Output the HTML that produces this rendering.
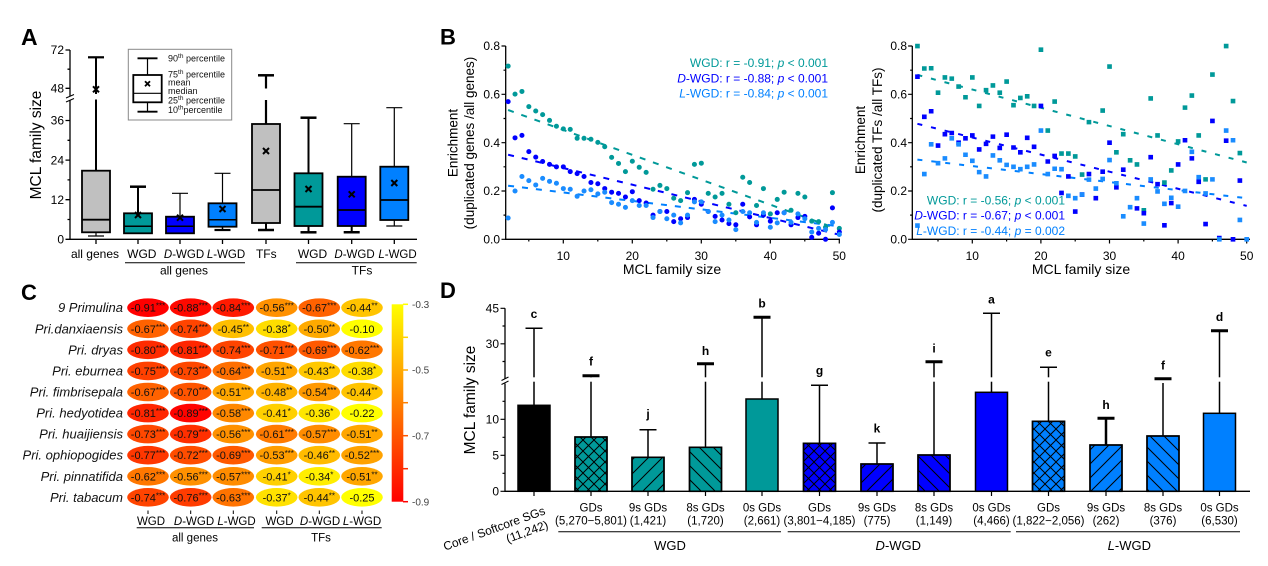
<!DOCTYPE html>
<html><head><meta charset="utf-8">
<style>
html,body{margin:0;padding:0;background:#fff;}
svg{display:block;font-family:"Liberation Sans",Arial,sans-serif;}
</style></head><body>
<svg width="1268" height="566" viewBox="0 0 1268 566" xmlns="http://www.w3.org/2000/svg">
<defs>
<pattern id="pc" patternUnits="userSpaceOnUse" width="11" height="11"><path d="M0,0L11,11M11,0L0,11" stroke="#000" stroke-width="1"/></pattern>
<pattern id="pf" patternUnits="userSpaceOnUse" width="14" height="14"><path d="M-1,15L15,-1M-4,4L4,-4M10,18L18,10" stroke="#000" stroke-width="1"/></pattern>
<pattern id="pb" patternUnits="userSpaceOnUse" width="14" height="14"><path d="M-1,-1L15,15M-4,10L4,18M10,-4L18,4" stroke="#000" stroke-width="1"/></pattern>
<linearGradient id="cb" x1="0" y1="0" x2="0" y2="1"><stop offset="0" stop-color="#ffff00"/><stop offset="1" stop-color="#ff0000"/></linearGradient>
</defs>
<rect width="1268" height="566" fill="#fff"/>

<!-- ================= PANEL A ================= -->
<text x="21" y="45" font-size="23" font-weight="bold">A</text>
<text transform="translate(41,145) rotate(-90)" text-anchor="middle" font-size="15.5">MCL family size</text>
<path d="M70,50V96M70,100.5V239.3H417" stroke="#000" stroke-width="1.3" fill="none"/>
<path d="M66,98L74,94.5M66,102L74,98.5" stroke="#000" stroke-width="1"/>
<path d="M65.5,239.3H70M65.5,199.7H70M65.5,160.1H70M65.5,120.5H70M65.5,88.3H70M65.5,50H70M67.5,219.5H70M67.5,179.9H70M67.5,140.3H70M67.5,69.2H70" stroke="#000" stroke-width="1.3"/>
<g font-size="12" text-anchor="end">
<text x="64" y="243.5">0</text><text x="64" y="203.9">12</text><text x="64" y="164.3">24</text><text x="64" y="124.7">36</text><text x="64" y="92.5">48</text><text x="64" y="54.2">72</text>
</g>
<path d="M96,239.3V244M138,239.3V244M180,239.3V244M222.5,239.3V244M266,239.3V244M308.5,239.3V244M351.7,239.3V244M394.3,239.3V244" stroke="#000" stroke-width="1.3"/>

<!-- box 1 all genes -->
<path d="M96,57.3V94M96,99.5V170.7" stroke="#000" stroke-width="2"/>
<path d="M88,57.3H104" stroke="#000" stroke-width="2.2"/>
<path d="M96,232.3V236M88,236H104" stroke="#000" stroke-width="1.2"/>
<rect x="82" y="170.7" width="28" height="61.6" fill="#c0c0c0" stroke="#000" stroke-width="1.8"/>
<path d="M82,219.7H110" stroke="#000" stroke-width="1.8"/>
<path d="M93,86.3L99,92.3M99,86.3L93,92.3" stroke="#000" stroke-width="2"/>
<!-- box 2 WGD -->
<path d="M138,186.7V213.3" stroke="#000" stroke-width="2"/>
<path d="M130,186.7H146" stroke="#000" stroke-width="2.5"/>
<rect x="124" y="213.3" width="28" height="20" fill="#009999" stroke="#000" stroke-width="1.8"/>
<path d="M124,226.3H152" stroke="#000" stroke-width="1.5"/>
<path d="M135,212L141,218M141,212L135,218" stroke="#000" stroke-width="2"/>
<!-- box 3 D-WGD -->
<path d="M180,193.3V216.7M172,193.3H188" stroke="#000" stroke-width="1.2"/>
<rect x="166" y="216.7" width="28" height="16.6" fill="#0000ff" stroke="#000" stroke-width="1.8"/>
<path d="M166,226.3H194" stroke="#000" stroke-width="1.5"/>
<path d="M177,214.7L183,220.7M183,214.7L177,220.7" stroke="#000" stroke-width="2"/>
<!-- box 4 L-WGD -->
<path d="M222.5,173.3V203.3M214.5,173.3H230.5" stroke="#000" stroke-width="1.2"/>
<path d="M222.5,226.7V230" stroke="#000" stroke-width="1.5"/>
<path d="M214.5,230H230.5" stroke="#000" stroke-width="2.2"/>
<rect x="208.5" y="203.3" width="28" height="23.4" fill="#0080ff" stroke="#000" stroke-width="1.8"/>
<path d="M208.5,219.7H236.5" stroke="#000" stroke-width="1.5"/>
<path d="M219.5,206L225.5,212M225.5,206L219.5,212" stroke="#000" stroke-width="2"/>
<!-- box 5 TFs -->
<path d="M266,75.3V88.5M266,100V124" stroke="#000" stroke-width="2.2"/>
<path d="M258,75.3H274" stroke="#000" stroke-width="2.5"/>
<path d="M266,223V230" stroke="#000" stroke-width="2"/>
<path d="M258,230H274" stroke="#000" stroke-width="2.5"/>
<rect x="252" y="124" width="28" height="99" fill="#c0c0c0" stroke="#000" stroke-width="1.8"/>
<path d="M252,190H280" stroke="#000" stroke-width="1.8"/>
<path d="M263,148L269,154M269,148L263,154" stroke="#000" stroke-width="2"/>
<!-- box 6 WGD TF -->
<path d="M308.5,117.7V173.3" stroke="#000" stroke-width="2"/>
<path d="M300.5,117.7H316.5" stroke="#000" stroke-width="2.5"/>
<path d="M308.5,226V232.3" stroke="#000" stroke-width="2"/>
<path d="M300.5,232.3H316.5" stroke="#000" stroke-width="2.5"/>
<rect x="294.5" y="173.3" width="28" height="52.7" fill="#009999" stroke="#000" stroke-width="1.8"/>
<path d="M294.5,206.7H322.5" stroke="#000" stroke-width="1.8"/>
<path d="M305.5,186L311.5,192M311.5,186L305.5,192" stroke="#000" stroke-width="2"/>
<!-- box 7 D-WGD TF -->
<path d="M351.7,123.7V176.7M343.7,123.7H359.7" stroke="#000" stroke-width="1.2"/>
<path d="M351.7,226V232.3" stroke="#000" stroke-width="2"/>
<path d="M343.7,232.3H359.7" stroke="#000" stroke-width="2.5"/>
<rect x="337.7" y="176.7" width="28" height="49.3" fill="#0000ff" stroke="#000" stroke-width="1.8"/>
<path d="M337.7,210H365.7" stroke="#000" stroke-width="1.8"/>
<path d="M348.7,191.3L354.7,197.3M354.7,191.3L348.7,197.3" stroke="#000" stroke-width="2"/>
<!-- box 8 L-WGD TF -->
<path d="M394.3,107.7V166.7M386.3,107.7H402.3M394.3,220V226M386.3,226H402.3" stroke="#000" stroke-width="1.2"/>
<rect x="380.3" y="166.7" width="28" height="53.3" fill="#0080ff" stroke="#000" stroke-width="1.8"/>
<path d="M380.3,200H408.3" stroke="#000" stroke-width="1.8"/>
<path d="M391.3,180L397.3,186M397.3,180L391.3,186" stroke="#000" stroke-width="2"/>

<g font-size="12" text-anchor="middle">
<text x="95" y="258">all genes</text>
<text x="141.8" y="258">WGD</text>
<text x="184" y="258" font-size="11.5"><tspan font-style="italic">D</tspan>-WGD</text>
<text x="226" y="258" font-size="11.5"><tspan font-style="italic">L</tspan>-WGD</text>
<text x="266.3" y="258">TFs</text>
<text x="312.5" y="258">WGD</text>
<text x="354.5" y="258" font-size="11.5"><tspan font-style="italic">D</tspan>-WGD</text>
<text x="397.5" y="258" font-size="11.5"><tspan font-style="italic">L</tspan>-WGD</text>
<text x="184" y="274.5">all genes</text>
<text x="362" y="274.5">TFs</text>
</g>
<path d="M125,262.7H245M296,262.7H416.7" stroke="#000" stroke-width="1"/>

<!-- legend -->
<rect x="128.3" y="49.3" width="103.4" height="70.7" fill="#fff" stroke="#888" stroke-width="1"/>
<path d="M147.5,58.3V75M147.5,102.3V111.7" stroke="#000" stroke-width="1.2"/>
<path d="M137.5,58.3H157.5M137.5,111.7H157.5" stroke="#000" stroke-width="1.8"/>
<rect x="133.3" y="75" width="28.4" height="27.3" fill="#fff" stroke="#000" stroke-width="1.8"/>
<path d="M133.3,93.3H161.7" stroke="#000" stroke-width="1.2"/>
<path d="M145,81.2L150,86.2M150,81.2L145,86.2" stroke="#000" stroke-width="1.8"/>
<g font-size="9" fill="#111">
<text x="168" y="61.5">90<tspan font-size="6.5" dy="-3.5">th</tspan><tspan dy="3.5"> percentile</tspan></text>
<text x="168" y="77.5">75<tspan font-size="6.5" dy="-3.5">th</tspan><tspan dy="3.5"> percentile</tspan></text>
<text x="168" y="85.5">mean</text>
<text x="168" y="94">median</text>
<text x="168" y="103.5">25<tspan font-size="6.5" dy="-3.5">th</tspan><tspan dy="3.5"> percentile</tspan></text>
<text x="168" y="113">10<tspan font-size="6.5" dy="-3.5">th</tspan><tspan dy="3.5">percentile</tspan></text>
</g>

<!-- ================= PANEL B LEFT ================= -->
<text x="440" y="44.5" font-size="22" font-weight="bold">B</text>
<g font-size="13.5" text-anchor="middle">
<text transform="translate(457.5,143) rotate(-90)">Enrichment</text>
<text transform="translate(474,143) rotate(-90)">(duplicated genes /all genes)</text>
<text transform="translate(865,140) rotate(-90)">Enrichment</text>
<text transform="translate(882,140) rotate(-90)">(duplicated TFs /all TFs)</text>
</g>
<path d="M505.7,46V239.3H840" stroke="#000" stroke-width="1.3" fill="none"/>
<path d="M501.5,239.3H505.7M501.5,191H505.7M501.5,142.7H505.7M501.5,94.3H505.7M501.5,46H505.7M503.5,215.1H505.7M503.5,166.8H505.7M503.5,118.5H505.7M503.5,70.2H505.7" stroke="#000" stroke-width="1.2"/>
<path d="M563.3,239.3V243.5M632.3,239.3V243.5M701.3,239.3V243.5M770.3,239.3V243.5M839.3,239.3V243.5M528.8,239.3V241.5M597.8,239.3V241.5M666.8,239.3V241.5M735.8,239.3V241.5M804.8,239.3V241.5" stroke="#000" stroke-width="1.2"/>
<g font-size="12" text-anchor="end">
<text x="500" y="243.5">0.0</text><text x="500" y="195.2">0.2</text><text x="500" y="146.9">0.4</text><text x="500" y="98.5">0.6</text><text x="500" y="50.2">0.8</text>
<text x="907" y="243.5">0.0</text><text x="907" y="195.2">0.2</text><text x="907" y="146.9">0.4</text><text x="907" y="98.5">0.6</text><text x="907" y="50.2">0.8</text>
</g>
<g font-size="12" text-anchor="middle">
<text x="563.3" y="260">10</text><text x="632.3" y="260">20</text><text x="701.3" y="260">30</text><text x="770.3" y="260">40</text><text x="839.3" y="260">50</text>
<text x="972.3" y="260">10</text><text x="1040.9" y="260">20</text><text x="1109.5" y="260">30</text><text x="1178.1" y="260">40</text><text x="1246.7" y="260">50</text>
</g>
<g font-size="14" text-anchor="middle">
<text x="672" y="274">MCL family size</text>
<text x="1081" y="274">MCL family size</text>
</g>

<!-- trend lines left -->
<g stroke-width="2" stroke-dasharray="6,8" fill="none">
<path d="M508.1,110L839.3,229.6" stroke="#009999"/>
<path d="M508.1,154.7L839.3,234.7" stroke="#0000ff"/>
<path d="M508.1,185.7L839.3,226.3" stroke="#0080ff"/>
</g>
<g transform="translate(494.3,239.3) scale(6.9,-241.6)" fill="none" stroke-linecap="round">
<path vector-effect="non-scaling-stroke" stroke-width="5" stroke="#009999" d="M2,.717h.01M3,.601h.01M4,.612h.01M5,.549h.01M6,.531h.01M7,.516h.01M8,.492h.01M9,.468h.01M10,.457h.01M11,.455h.01M12,.418h.01M13,.418h.01M14,.414h.01M15,.401h.01M16,.383h.01M17,.339h.01M18,.314h.01M19,.28h.01M20,.323h.01M21,.298h.01M22,.277h.01M23,.207h.01M24,.223h.01M25,.21h.01M26,.17h.01M27,.16h.01M28,.193h.01M29,.31h.01M30,.315h.01M31,.19h.01M32,.175h.01M33,.19h.01M34,.145h.01M35,.11h.01M36,.257h.01M37,.235h.01M38,.14h.01M39,.21h.01M40,.105h.01M41,.165h.01M42,.195h.01M43,.12h.01M44,.19h.01M45,.175h.01M46,.075h.01M47,.073h.01M48,.05h.01M49,.193h.01M50,.045h.01"/>
<path vector-effect="non-scaling-stroke" stroke-width="5" stroke="#0000ff" d="M2,.57h.01M3,.42h.01M4,.43h.01M5,.363h.01M6,.34h.01M7,.322h.01M8,.31h.01M9,.3h.01M10,.3h.01M11,.28h.01M12,.272h.01M13,.26h.01M14,.235h.01M15,.23h.01M16,.21h.01M17,.195h.01M18,.19h.01M19,.175h.01M20,.197h.01M21,.16h.01M22,.15h.01M23,.1h.01M24,.115h.01M25,.115h.01M26,.073h.01M27,.085h.01M28,.09h.01M29,.165h.01M30,.145h.01M31,.115h.01M32,.095h.01M33,.08h.01M34,.065h.01M35,.06h.01M36,.145h.01M37,.093h.01M38,.06h.01M39,.1h.01M40,.075h.01M41,.11h.01M42,.11h.01M43,.06h.01M44,.09h.01M45,.095h.01M46,.008h.01M47,.025h.01M48,0h.01M49,.13h.01M50,.03h.01"/>
<path vector-effect="non-scaling-stroke" stroke-width="5" stroke="#1a8cff" d="M2,.088h.01M3,.2h.01M4,.26h.01M5,.243h.01M6,.225h.01M7,.252h.01M8,.24h.01M9,.232h.01M10,.21h.01M11,.207h.01M12,.178h.01M13,.2h.01M14,.205h.01M15,.188h.01M16,.195h.01M17,.152h.01M18,.145h.01M19,.132h.01M20,.16h.01M21,.14h.01M22,.14h.01M23,.09h.01M24,.115h.01M25,.085h.01M26,.1h.01M27,.068h.01M28,.1h.01M29,.155h.01M30,.155h.01M31,.115h.01M32,.073h.01M33,.1h.01M34,.08h.01M35,.04h.01M36,.115h.01M37,.11h.01M38,.07h.01M39,.11h.01M40,.05h.01M41,.068h.01M42,.11h.01M43,.07h.01M44,.105h.01M45,.085h.01M46,.03h.01M47,.045h.01M48,.04h.01M49,.07h.01M50,.02h.01"/>
</g>
<g font-size="12" text-anchor="end">
<text x="828" y="67" fill="#009999">WGD: r = -0.91; <tspan font-style="italic">p</tspan> &lt; 0.001</text>
<text x="828" y="82.5" fill="#0000ff"><tspan font-style="italic">D</tspan>-WGD: r = -0.88; <tspan font-style="italic">p</tspan> &lt; 0.001</text>
<text x="828" y="97.5" fill="#0080ff"><tspan font-style="italic">L</tspan>-WGD: r = -0.84; <tspan font-style="italic">p</tspan> &lt; 0.001</text>
</g>

<!-- ================= PANEL B RIGHT ================= -->
<path d="M912.3,46V239.3H1250" stroke="#000" stroke-width="1.3" fill="none"/>
<path d="M908.1,239.3H912.3M908.1,191H912.3M908.1,142.7H912.3M908.1,94.3H912.3M908.1,46H912.3M910.1,215.1H912.3M910.1,166.8H912.3M910.1,118.5H912.3M910.1,70.2H912.3" stroke="#000" stroke-width="1.2"/>
<path d="M972.3,239.3V243.5M1040.9,239.3V243.5M1109.5,239.3V243.5M1178.1,239.3V243.5M1246.7,239.3V243.5M938,239.3V241.5M1006.6,239.3V241.5M1075.2,239.3V241.5M1143.8,239.3V241.5M1212.4,239.3V241.5" stroke="#000" stroke-width="1.2"/>
<g stroke-width="2" stroke-dasharray="5,9" fill="none">
<path d="M917.4,74.9L1246.7,162.5" stroke="#009999"/>
<path d="M917.4,123.8L1246.7,205.9" stroke="#0000ff"/>
<path d="M917.4,159.6L1246.7,198.2" stroke="#0080ff"/>
</g>
<g transform="translate(903.7,239.3) scale(6.86,-241.6)" fill="none" stroke-linecap="square">
<path vector-effect="non-scaling-stroke" stroke-width="4.6" stroke="#009999" d="M2,.8h.01M3,.707h.01M4,.708h.01M5,.607h.01M6,.67h.01M7,.665h.01M8,.632h.01M9,.588h.01M10,.67h.01M11,.552h.01M12,.617h.01M13,.637h.01M14,.607h.01M15,.653h.01M16,.555h.01M17,.585h.01M18,.592h.01M19,.552h.01M20,.785h.01M21,.45h.01M22,.57h.01M23,.355h.01M24,.355h.01M25,.343h.01M26,.268h.01M27,.485h.01M29,.533h.01M30,.715h.01M31,.36h.01M32,.435h.01M33,.327h.01M34,.31h.01M35,.12h.01M36,.583h.01M37,.43h.01M38,.235h.01M39,.285h.01M40,.405h.01M41,.545h.01M42,.595h.01M43,.43h.01M44,.248h.01M45,.682h.01M47,.8h.01M48,.572h.01M49,.357h.01"/>
<path vector-effect="non-scaling-stroke" stroke-width="4.6" stroke="#0000ff" d="M2,.673h.01M3,.507h.01M4,.53h.01M5,.388h.01M6,.435h.01M7,.44h.01M8,.4h.01M9,.418h.01M10,.43h.01M11,.372h.01M12,.395h.01M13,.425h.01M14,.378h.01M15,.433h.01M16,.38h.01M17,.36h.01M18,.42h.01M19,.383h.01M20,.552h.01M21,.322h.01M22,.345h.01M23,.192h.01M24,.26h.01M25,.115h.01M26,.185h.01M27,.27h.01M28,.17h.01M29,.28h.01M30,.4h.01M31,.215h.01M32,.288h.01M34,.128h.01M35,.108h.01M36,.34h.01M37,.228h.01M38,.058h.01M39,.15h.01M40,.31h.01M41,.41h.01M42,.335h.01M43,.238h.01M44,.063h.01M45,.49h.01M46,.005h.01M47,.408h.01M48,0h.01M49,.243h.01"/>
<path vector-effect="non-scaling-stroke" stroke-width="4.6" stroke="#1a8cff" d="M2,.057h.01M3,.27h.01M4,.393h.01M5,.315h.01M6,.335h.01M7,.418h.01M8,.393h.01M9,.35h.01M10,.325h.01M11,.278h.01M12,.26h.01M13,.347h.01M14,.327h.01M15,.308h.01M16,.3h.01M17,.29h.01M18,.3h.01M19,.31h.01M20,.45h.01M21,.27h.01M22,.292h.01M23,.29h.01M24,.18h.01M25,.17h.01M26,.185h.01M27,.247h.01M28,.21h.01M29,.25h.01M30,.328h.01M31,.232h.01M32,.095h.01M33,.133h.01M34,.17h.01M35,.065h.01M36,.248h.01M37,.198h.01M38,.147h.01M39,.172h.01M40,.135h.01M41,.2h.01M42,.362h.01M43,.257h.01M44,.19h.01M45,.248h.01M46,0h.01M47,.45h.01M48,.41h.01M49,.08h.01M50,0h.01"/>
</g>
<g font-size="12" text-anchor="end">
<text x="1065" y="204.5" fill="#009999">WGD: r = -0.56; <tspan font-style="italic">p</tspan> &lt; 0.001</text>
<text x="1065" y="219.5" fill="#0000ff"><tspan font-style="italic">D</tspan>-WGD: r = -0.67; <tspan font-style="italic">p</tspan> &lt; 0.001</text>
<text x="1065" y="235" fill="#0080ff"><tspan font-style="italic">L</tspan>-WGD: r = -0.44; <tspan font-style="italic">p</tspan> = 0.002</text>
</g>

<!-- ================= PANEL C ================= -->
<text x="21" y="300" font-size="22" font-weight="bold">C</text>
<g font-size="13" font-style="italic" text-anchor="end" fill="#111">
<text x="123" y="312.2">9 Primulina</text>
<text x="123" y="333.3">Pri.danxiaensis</text>
<text x="123" y="354.3">Pri. dryas</text>
<text x="123" y="375.4">Pri. eburnea</text>
<text x="123" y="396.5">Pri. fimbrisepala</text>
<text x="123" y="417.6">Pri. hedyotidea</text>
<text x="123" y="438.6">Pri. huaijiensis</text>
<text x="123" y="459.7">Pri. ophiopogides</text>
<text x="123" y="480.8">Pri. pinnatifida</text>
<text x="123" y="501.8">Pri. tabacum</text>
</g>
<g>
<ellipse cx="148" cy="307.7" rx="20.8" ry="9.3" fill="#ff0000"/><ellipse cx="190.7" cy="307.7" rx="20.8" ry="9.3" fill="#ff0900"/><ellipse cx="233.3" cy="307.7" rx="20.8" ry="9.3" fill="#ff1a00"/><ellipse cx="276.7" cy="307.7" rx="20.8" ry="9.3" fill="#ff9100"/><ellipse cx="319.3" cy="307.7" rx="20.8" ry="9.3" fill="#ff6200"/><ellipse cx="362" cy="307.7" rx="20.8" ry="9.3" fill="#ffc400"/>
<ellipse cx="148" cy="328.8" rx="20.8" ry="9.3" fill="#ff6200"/><ellipse cx="190.7" cy="328.8" rx="20.8" ry="9.3" fill="#ff4400"/><ellipse cx="233.3" cy="328.8" rx="20.8" ry="9.3" fill="#ffbf00"/><ellipse cx="276.7" cy="328.8" rx="20.8" ry="9.3" fill="#ffdd00"/><ellipse cx="319.3" cy="328.8" rx="20.8" ry="9.3" fill="#ffaa00"/><ellipse cx="362" cy="328.8" rx="20.8" ry="9.3" fill="#ffff00"/>
<ellipse cx="148" cy="349.8" rx="20.8" ry="9.3" fill="#ff2b00"/><ellipse cx="190.7" cy="349.8" rx="20.8" ry="9.3" fill="#ff2600"/><ellipse cx="233.3" cy="349.8" rx="20.8" ry="9.3" fill="#ff4400"/><ellipse cx="276.7" cy="349.8" rx="20.8" ry="9.3" fill="#ff5100"/><ellipse cx="319.3" cy="349.8" rx="20.8" ry="9.3" fill="#ff5900"/><ellipse cx="362" cy="349.8" rx="20.8" ry="9.3" fill="#ff7700"/>
<ellipse cx="148" cy="370.9" rx="20.8" ry="9.3" fill="#ff4000"/><ellipse cx="190.7" cy="370.9" rx="20.8" ry="9.3" fill="#ff4800"/><ellipse cx="233.3" cy="370.9" rx="20.8" ry="9.3" fill="#ff6f00"/><ellipse cx="276.7" cy="370.9" rx="20.8" ry="9.3" fill="#ffa600"/><ellipse cx="319.3" cy="370.9" rx="20.8" ry="9.3" fill="#ffc800"/><ellipse cx="362" cy="370.9" rx="20.8" ry="9.3" fill="#ffdd00"/>
<ellipse cx="148" cy="392" rx="20.8" ry="9.3" fill="#ff6200"/><ellipse cx="190.7" cy="392" rx="20.8" ry="9.3" fill="#ff5500"/><ellipse cx="233.3" cy="392" rx="20.8" ry="9.3" fill="#ffa600"/><ellipse cx="276.7" cy="392" rx="20.8" ry="9.3" fill="#ffb300"/><ellipse cx="319.3" cy="392" rx="20.8" ry="9.3" fill="#ff9900"/><ellipse cx="362" cy="392" rx="20.8" ry="9.3" fill="#ffc400"/>
<ellipse cx="148" cy="413.1" rx="20.8" ry="9.3" fill="#ff2600"/><ellipse cx="190.7" cy="413.1" rx="20.8" ry="9.3" fill="#ff0400"/><ellipse cx="233.3" cy="413.1" rx="20.8" ry="9.3" fill="#ff8800"/><ellipse cx="276.7" cy="413.1" rx="20.8" ry="9.3" fill="#ffd000"/><ellipse cx="319.3" cy="413.1" rx="20.8" ry="9.3" fill="#ffe600"/><ellipse cx="362" cy="413.1" rx="20.8" ry="9.3" fill="#ffff00"/>
<ellipse cx="148" cy="434.1" rx="20.8" ry="9.3" fill="#ff4800"/><ellipse cx="190.7" cy="434.1" rx="20.8" ry="9.3" fill="#ff2f00"/><ellipse cx="233.3" cy="434.1" rx="20.8" ry="9.3" fill="#ff9100"/><ellipse cx="276.7" cy="434.1" rx="20.8" ry="9.3" fill="#ff7b00"/><ellipse cx="319.3" cy="434.1" rx="20.8" ry="9.3" fill="#ff8c00"/><ellipse cx="362" cy="434.1" rx="20.8" ry="9.3" fill="#ffa600"/>
<ellipse cx="148" cy="455.2" rx="20.8" ry="9.3" fill="#ff3700"/><ellipse cx="190.7" cy="455.2" rx="20.8" ry="9.3" fill="#ff4d00"/><ellipse cx="233.3" cy="455.2" rx="20.8" ry="9.3" fill="#ff5900"/><ellipse cx="276.7" cy="455.2" rx="20.8" ry="9.3" fill="#ff9d00"/><ellipse cx="319.3" cy="455.2" rx="20.8" ry="9.3" fill="#ffbb00"/><ellipse cx="362" cy="455.2" rx="20.8" ry="9.3" fill="#ffa200"/>
<ellipse cx="148" cy="476.3" rx="20.8" ry="9.3" fill="#ff7700"/><ellipse cx="190.7" cy="476.3" rx="20.8" ry="9.3" fill="#ff9100"/><ellipse cx="233.3" cy="476.3" rx="20.8" ry="9.3" fill="#ff8c00"/><ellipse cx="276.7" cy="476.3" rx="20.8" ry="9.3" fill="#ffd000"/><ellipse cx="319.3" cy="476.3" rx="20.8" ry="9.3" fill="#ffee00"/><ellipse cx="362" cy="476.3" rx="20.8" ry="9.3" fill="#ffa600"/>
<ellipse cx="148" cy="497.3" rx="20.8" ry="9.3" fill="#ff4400"/><ellipse cx="190.7" cy="497.3" rx="20.8" ry="9.3" fill="#ff3c00"/><ellipse cx="233.3" cy="497.3" rx="20.8" ry="9.3" fill="#ff7300"/><ellipse cx="276.7" cy="497.3" rx="20.8" ry="9.3" fill="#ffe100"/><ellipse cx="319.3" cy="497.3" rx="20.8" ry="9.3" fill="#ffc400"/><ellipse cx="362" cy="497.3" rx="20.8" ry="9.3" fill="#ffff00"/>
</g>
<g font-size="11" text-anchor="middle" fill="#111">
<text x="148" y="311.7">-0.91<tspan font-size="8" dy="-3">***</tspan></text><text x="190.7" y="311.7">-0.88<tspan font-size="8" dy="-3">***</tspan></text><text x="233.3" y="311.7">-0.84<tspan font-size="8" dy="-3">***</tspan></text><text x="276.7" y="311.7">-0.56<tspan font-size="8" dy="-3">***</tspan></text><text x="319.3" y="311.7">-0.67<tspan font-size="8" dy="-3">***</tspan></text><text x="362" y="311.7">-0.44<tspan font-size="8" dy="-3">**</tspan></text>
<text x="148" y="332.8">-0.67<tspan font-size="8" dy="-3">***</tspan></text><text x="190.7" y="332.8">-0.74<tspan font-size="8" dy="-3">***</tspan></text><text x="233.3" y="332.8">-0.45<tspan font-size="8" dy="-3">**</tspan></text><text x="276.7" y="332.8">-0.38<tspan font-size="8" dy="-3">*</tspan></text><text x="319.3" y="332.8">-0.50<tspan font-size="8" dy="-3">**</tspan></text><text x="362" y="332.8">-0.10</text>
<text x="148" y="353.8">-0.80<tspan font-size="8" dy="-3">***</tspan></text><text x="190.7" y="353.8">-0.81<tspan font-size="8" dy="-3">***</tspan></text><text x="233.3" y="353.8">-0.74<tspan font-size="8" dy="-3">***</tspan></text><text x="276.7" y="353.8">-0.71<tspan font-size="8" dy="-3">***</tspan></text><text x="319.3" y="353.8">-0.69<tspan font-size="8" dy="-3">***</tspan></text><text x="362" y="353.8">-0.62<tspan font-size="8" dy="-3">***</tspan></text>
<text x="148" y="374.9">-0.75<tspan font-size="8" dy="-3">***</tspan></text><text x="190.7" y="374.9">-0.73<tspan font-size="8" dy="-3">***</tspan></text><text x="233.3" y="374.9">-0.64<tspan font-size="8" dy="-3">***</tspan></text><text x="276.7" y="374.9">-0.51<tspan font-size="8" dy="-3">**</tspan></text><text x="319.3" y="374.9">-0.43<tspan font-size="8" dy="-3">**</tspan></text><text x="362" y="374.9">-0.38<tspan font-size="8" dy="-3">*</tspan></text>
<text x="148" y="396">-0.67<tspan font-size="8" dy="-3">***</tspan></text><text x="190.7" y="396">-0.70<tspan font-size="8" dy="-3">***</tspan></text><text x="233.3" y="396">-0.51<tspan font-size="8" dy="-3">***</tspan></text><text x="276.7" y="396">-0.48<tspan font-size="8" dy="-3">**</tspan></text><text x="319.3" y="396">-0.54<tspan font-size="8" dy="-3">***</tspan></text><text x="362" y="396">-0.44<tspan font-size="8" dy="-3">**</tspan></text>
<text x="148" y="417.1">-0.81<tspan font-size="8" dy="-3">***</tspan></text><text x="190.7" y="417.1">-0.89<tspan font-size="8" dy="-3">***</tspan></text><text x="233.3" y="417.1">-0.58<tspan font-size="8" dy="-3">***</tspan></text><text x="276.7" y="417.1">-0.41<tspan font-size="8" dy="-3">*</tspan></text><text x="319.3" y="417.1">-0.36<tspan font-size="8" dy="-3">*</tspan></text><text x="362" y="417.1">-0.22</text>
<text x="148" y="438.1">-0.73<tspan font-size="8" dy="-3">***</tspan></text><text x="190.7" y="438.1">-0.79<tspan font-size="8" dy="-3">***</tspan></text><text x="233.3" y="438.1">-0.56<tspan font-size="8" dy="-3">***</tspan></text><text x="276.7" y="438.1">-0.61<tspan font-size="8" dy="-3">***</tspan></text><text x="319.3" y="438.1">-0.57<tspan font-size="8" dy="-3">***</tspan></text><text x="362" y="438.1">-0.51<tspan font-size="8" dy="-3">**</tspan></text>
<text x="148" y="459.2">-0.77<tspan font-size="8" dy="-3">***</tspan></text><text x="190.7" y="459.2">-0.72<tspan font-size="8" dy="-3">***</tspan></text><text x="233.3" y="459.2">-0.69<tspan font-size="8" dy="-3">***</tspan></text><text x="276.7" y="459.2">-0.53<tspan font-size="8" dy="-3">***</tspan></text><text x="319.3" y="459.2">-0.46<tspan font-size="8" dy="-3">**</tspan></text><text x="362" y="459.2">-0.52<tspan font-size="8" dy="-3">***</tspan></text>
<text x="148" y="480.3">-0.62<tspan font-size="8" dy="-3">***</tspan></text><text x="190.7" y="480.3">-0.56<tspan font-size="8" dy="-3">***</tspan></text><text x="233.3" y="480.3">-0.57<tspan font-size="8" dy="-3">***</tspan></text><text x="276.7" y="480.3">-0.41<tspan font-size="8" dy="-3">*</tspan></text><text x="319.3" y="480.3">-0.34<tspan font-size="8" dy="-3">*</tspan></text><text x="362" y="480.3">-0.51<tspan font-size="8" dy="-3">**</tspan></text>
<text x="148" y="501.3">-0.74<tspan font-size="8" dy="-3">***</tspan></text><text x="190.7" y="501.3">-0.76<tspan font-size="8" dy="-3">***</tspan></text><text x="233.3" y="501.3">-0.63<tspan font-size="8" dy="-3">***</tspan></text><text x="276.7" y="501.3">-0.37<tspan font-size="8" dy="-3">*</tspan></text><text x="319.3" y="501.3">-0.44<tspan font-size="8" dy="-3">**</tspan></text><text x="362" y="501.3">-0.25</text>
</g>
<!-- colorbar -->
<rect x="391.7" y="304.3" width="11.6" height="197.4" fill="url(#cb)"/>
<g stroke-width="1.5">
<path d="M403,304.3H408" stroke="#ffff00"/><path d="M403,337.3H408" stroke="#ffd400"/><path d="M403,370H408" stroke="#ffaa00"/><path d="M403,402.7H408" stroke="#ff8000"/><path d="M403,435.7H408" stroke="#ff5500"/><path d="M403,468.7H408" stroke="#ff2b00"/><path d="M403,501.7H408" stroke="#ff0000"/>
</g>
<g font-size="10" fill="#444">
<text x="412" y="308">-0.3</text><text x="412" y="373.7">-0.5</text><text x="412" y="439.4">-0.7</text><text x="412" y="505.4">-0.9</text>
</g>
<path d="M148,510.5V514M190.7,510.5V514M233.3,510.5V514M276.7,510.5V514M319.3,510.5V514M362,510.5V514" stroke="#000" stroke-width="1"/>
<g font-size="11.5" text-anchor="middle">
<text x="151" y="525">WGD</text>
<text x="194" y="525"><tspan font-style="italic">D</tspan>-WGD</text>
<text x="236.5" y="525"><tspan font-style="italic">L</tspan>-WGD</text>
<text x="279.5" y="525">WGD</text>
<text x="320" y="525"><tspan font-style="italic">D</tspan>-WGD</text>
<text x="362" y="525"><tspan font-style="italic">L</tspan>-WGD</text>
<text x="195" y="541.5">all genes</text>
<text x="321" y="541.5">TFs</text>
</g>
<path d="M136.7,527.7H254M261.7,527.7H381.7" stroke="#000" stroke-width="1"/>

<!-- ================= PANEL D ================= -->
<text x="440" y="298" font-size="22" font-weight="bold">D</text>
<text transform="translate(475,400) rotate(-90)" text-anchor="middle" font-size="15.5">MCL family size</text>
<path d="M505,308.3V378.5M505,383.5V491.3H1250" stroke="#000" stroke-width="1.3" fill="none"/>
<path d="M501.5,380.5L508.5,377M501.5,384.5L508.5,381" stroke="#000" stroke-width="1"/>
<path d="M500.5,308.3H505M500.5,343.8H505M500.5,419.3H505M500.5,455.3H505M500.5,491.3H505M502.5,326H505M502.5,361.5H505M502.5,401.3H505M502.5,437.3H505M502.5,473.3H505" stroke="#000" stroke-width="1.2"/>
<g font-size="12" text-anchor="end">
<text x="499" y="312.5">45</text><text x="499" y="348">30</text><text x="499" y="423.5">10</text><text x="499" y="459.5">5</text><text x="499" y="495.5">0</text>
</g>
<!-- bars -->
<g stroke="#000" stroke-width="1.5">
<rect x="518" y="405.3" width="32" height="86" fill="#000"/>
<rect x="575" y="437" width="32" height="54.3" fill="#009999"/>
<rect x="632" y="457.3" width="32" height="34" fill="#009999"/>
<rect x="689.5" y="447.3" width="32" height="44" fill="#009999"/>
<rect x="746" y="399" width="32" height="92.3" fill="#009999"/>
<rect x="803.5" y="443.3" width="32" height="48" fill="#0000ff"/>
<rect x="861" y="464" width="32" height="27.3" fill="#0000ff"/>
<rect x="918" y="455" width="32" height="36.3" fill="#0000ff"/>
<rect x="975.5" y="392.3" width="32" height="99" fill="#0000ff"/>
<rect x="1032.5" y="421.3" width="32" height="70" fill="#0080ff"/>
<rect x="1090" y="445" width="32" height="46.3" fill="#0080ff"/>
<rect x="1147" y="436" width="32" height="55.3" fill="#0080ff"/>
<rect x="1203.5" y="413.3" width="32" height="78" fill="#0080ff"/>
</g>
<g stroke="none">
<rect x="575" y="437" width="32" height="54.3" fill="url(#pc)"/>
<rect x="632" y="457.3" width="32" height="34" fill="url(#pf)"/>
<rect x="689.5" y="447.3" width="32" height="44" fill="url(#pb)"/>
<rect x="803.5" y="443.3" width="32" height="48" fill="url(#pc)"/>
<rect x="861" y="464" width="32" height="27.3" fill="url(#pf)"/>
<rect x="918" y="455" width="32" height="36.3" fill="url(#pb)"/>
<rect x="1032.5" y="421.3" width="32" height="70" fill="url(#pc)"/>
<rect x="1090" y="445" width="32" height="46.3" fill="url(#pf)"/>
<rect x="1147" y="436" width="32" height="55.3" fill="url(#pb)"/>
</g>
<g fill="none" stroke="#000" stroke-width="1.5">
<rect x="575" y="437" width="32" height="54.3"/>
<rect x="632" y="457.3" width="32" height="34"/>
<rect x="689.5" y="447.3" width="32" height="44"/>
<rect x="803.5" y="443.3" width="32" height="48"/>
<rect x="861" y="464" width="32" height="27.3"/>
<rect x="918" y="455" width="32" height="36.3"/>
<rect x="1032.5" y="421.3" width="32" height="70"/>
<rect x="1090" y="445" width="32" height="46.3"/>
<rect x="1147" y="436" width="32" height="55.3"/>
</g>
<!-- error bars -->
<path d="M534,405.3V328.3M591,437V375.7M648,457.3V429.7M705.5,447.3V363.7M762,399V317.3M819.5,443.3V385.3M877,464V443M934,455V361.7M991.5,392.3V313.3M1048.5,421.3V367.3M1106,445V418.3M1163,436V378.7M1219.5,413.3V330.7" stroke="#000" stroke-width="1.5"/>
<g fill="#fff">
<rect x="530" y="377.3" width="8" height="4.4"/><rect x="587" y="377.3" width="8" height="4.4"/><rect x="701.5" y="377.3" width="8" height="4.4"/><rect x="758" y="377.3" width="8" height="4.4"/><rect x="930" y="377.3" width="8" height="4.4"/><rect x="987.5" y="377.3" width="8" height="4.4"/><rect x="1044.5" y="377.3" width="8" height="4.4"/><rect x="1159" y="380" width="8" height="3"/><rect x="1215.5" y="377.3" width="8" height="4.4"/>
</g>
<path d="M525.5,328.3H542.5M639.5,429.7H656.5M811,385.3H828M868.5,443H885.5M983,313.3H1000M1040,367.3H1057" stroke="#000" stroke-width="1.5"/>
<path d="M582.5,375.7H599.5M697,363.7H714M753.5,317.3H770.5M925.5,361.7H942.5M1097.5,418.3H1114.5M1154.5,378.7H1171.5M1211,330.7H1228" stroke="#000" stroke-width="3"/>
<path d="M1106,445V418.3" stroke="#000" stroke-width="2.5"/>
<g font-size="12" font-weight="bold" text-anchor="middle">
<text x="534" y="318">c</text>
<text x="591" y="365.5">f</text>
<text x="648" y="418">j</text>
<text x="705.5" y="355">h</text>
<text x="762" y="307.5">b</text>
<text x="819.5" y="374.5">g</text>
<text x="877" y="432.5">k</text>
<text x="934" y="352.5">i</text>
<text x="991.5" y="303.5">a</text>
<text x="1048.5" y="356.5">e</text>
<text x="1106" y="409">h</text>
<text x="1163" y="369.5">f</text>
<text x="1219.5" y="321">d</text>
</g>
<path d="M534,491.3V496M591,491.3V496M648,491.3V496M705.5,491.3V496M762,491.3V496M819.5,491.3V496M877,491.3V496M934,491.3V496M991.5,491.3V496M1048.5,491.3V496M1106,491.3V496M1163,491.3V496M1219.5,491.3V496" stroke="#000" stroke-width="1.2"/>
<g font-size="11.5" text-anchor="middle">
<text x="591" y="511.5">GDs</text><text x="591" y="524.5">(5,270−5,801)</text>
<text x="648" y="511.5">9s GDs</text><text x="648" y="524.5">(1,421)</text>
<text x="705.5" y="511.5">8s GDs</text><text x="705.5" y="524.5">(1,720)</text>
<text x="762" y="511.5">0s GDs</text><text x="762" y="524.5">(2,661)</text>
<text x="819.5" y="511.5">GDs</text><text x="819.5" y="524.5">(3,801−4,185)</text>
<text x="877" y="511.5">9s GDs</text><text x="877" y="524.5">(775)</text>
<text x="934" y="511.5">8s GDs</text><text x="934" y="524.5">(1,149)</text>
<text x="991.5" y="511.5">0s GDs</text><text x="991.5" y="524.5">(4,466)</text>
<text x="1048.5" y="511.5">GDs</text><text x="1048.5" y="524.5">(1,822−2,056)</text>
<text x="1106" y="511.5">9s GDs</text><text x="1106" y="524.5">(262)</text>
<text x="1163" y="511.5">8s GDs</text><text x="1163" y="524.5">(376)</text>
<text x="1219.5" y="511.5">0s GDs</text><text x="1219.5" y="524.5">(6,530)</text>
</g>
<g font-size="12" text-anchor="end">
<text transform="translate(546,514) rotate(-20)">Core / Softcore SGs</text>
<text transform="translate(549,528) rotate(-20)">(11,242)</text>
</g>
<path d="M558.3,531.7H781M787.7,531.7H1010.7M1016,531.7H1240" stroke="#000" stroke-width="1"/>
<g font-size="13" text-anchor="middle">
<text x="670" y="550">WGD</text>
<text x="898.3" y="550"><tspan font-style="italic">D</tspan>-WGD</text>
<text x="1129.3" y="550"><tspan font-style="italic">L</tspan>-WGD</text>
</g>
</svg>
</body></html>
